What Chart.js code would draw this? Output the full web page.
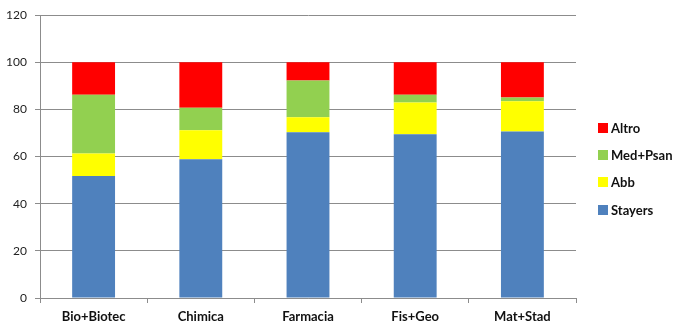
<!DOCTYPE html>
<html>
<head>
<meta charset="utf-8">
<script src="https://cdn.jsdelivr.net/npm/chart.js@4/dist/chart.umd.min.js"></script>
<style>
  html, body { margin: 0; padding: 0; background: #fff; }
  #wrap { position: relative; width: 684px; height: 326px; }
  #legend { position: absolute; left: 598px; top: 114px; font: bold 13px Lato, "Open Sans", sans-serif; color: #111; }
  #legend div { height: 27.3px; display: flex; align-items: center; }
  #legend span.box { display: inline-block; width: 10px; height: 10px; margin-right: 3px; }
</style>
</head>
<body>
<div id="wrap">
  <canvas id="c" width="684" height="326"></canvas>
  <div id="legend"></div>
</div>
<script>
// Percentages per degree course
const categories = ['Bio+Biotec', 'Chimica', 'Farmacia', 'Fis+Geo', 'Mat+Stad'];
const stayers = [51.8, 58.9, 70.3, 69.5, 70.6];
const abb     = [9.5, 12.3, 6.4, 13.5, 12.9];
const medPsan = [24.9, 9.5, 15.6, 3.2, 1.6];
const altro   = [13.8, 19.3, 7.7, 13.8, 14.9];
const yTicks  = [0, 20, 40, 60, 80, 100, 120];

const seriesNames  = ['Stayers', 'Abb', 'Med+Psan', 'Altro'];
const seriesValues = [stayers, abb, medPsan, altro];
const seriesColors = ['#4F81BD', '#FFFF00', '#92D050', '#FF0000'];

const gridColor = '#8c8c8c';

const chart = new Chart(document.getElementById('c'), {
  type: 'bar',
  data: {
    labels: categories,
    datasets: seriesNames.map((name, i) => ({
      label: name,
      data: seriesValues[i],
      backgroundColor: seriesColors[i],
      borderWidth: 0,
      categoryPercentage: 1,
      barPercentage: 0.4
    }))
  },
  options: {
    responsive: false,
    animation: false,
    layout: { padding: { left: 0, right: 108, top: 6, bottom: 0 } },
    plugins: { legend: { display: false }, tooltip: { enabled: false } },
    scales: {
      x: {
        stacked: true,
        grid: { drawOnChartArea: false, color: gridColor, tickLength: 5 },
        border: { color: gridColor },
        ticks: {
          color: '#111',
          padding: 6,
          font: { family: 'Lato, "Open Sans", sans-serif', size: 13, weight: 'bold' }
        },
        afterFit: s => { s.height = 28; }
      },
      y: {
        stacked: true,
        min: 0,
        max: 120,
        afterBuildTicks: s => { s.ticks = yTicks.map(v => ({ value: v })); },
        grid: { color: gridColor, tickLength: 5 },
        border: { color: gridColor },
        ticks: {
          color: '#222',
          padding: 8,
          font: { family: 'Lato, "Open Sans", sans-serif', size: 12 }
        },
        afterFit: s => { s.width = 40; }
      }
    }
  }
});

// Legend, top to bottom in stacking order from the top of the bar
const legend = document.getElementById('legend');
for (let i = seriesNames.length - 1; i >= 0; i--) {
  const row = document.createElement('div');
  const box = document.createElement('span');
  box.className = 'box';
  box.style.background = seriesColors[i];
  row.appendChild(box);
  row.appendChild(document.createTextNode(seriesNames[i]));
  legend.appendChild(row);
}
</script>
</body>
</html>
